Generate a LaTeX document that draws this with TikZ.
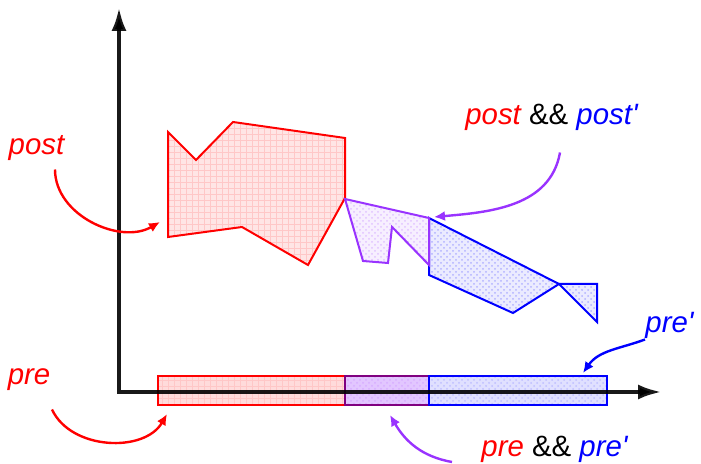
\documentclass[tikz,border=0pt]{standalone}
\usepackage{fontspec}
\setmainfont{Liberation Sans}
\usetikzlibrary{arrows.meta,patterns}
\definecolor{violetline}{RGB}{153,51,255}
\definecolor{barpurple}{RGB}{128,0,128}

\begin{document}
\begin{tikzpicture}[x=0.5pt, y=0.5pt,
    axis/.style={line width=2.2pt, line join=miter, draw opacity=0.9, {Latex[length=12pt, width=7.5pt]}-{Latex[length=12pt, width=7.5pt]}},
    region/.style={draw=#1, line width=1pt, preaction={fill=#1!8}, pattern=crosshatch dots, pattern color=#1!30},
    redregion/.style={draw=red, line width=1pt, preaction={fill=red!10}, pattern=grid, pattern color=red!22},
    bar/.style={draw=#1, line width=1pt},
    conn/.style={line width=1.2pt, -{Latex[length=5.5pt, width=5pt]}},
    lbl/.style={font=\fontsize{14.7}{17}\selectfont\itshape, inner sep=0pt, anchor=base}
]
    \useasboundingbox (0,0) rectangle (701,464);

    % Pre intervals on the axis
    \filldraw[bar=red, preaction={fill=red!14}, pattern=grid, pattern color=red!22] (158,59) rectangle (345,88);
    \filldraw[bar=barpurple, preaction={fill=violetline!28}, pattern=crosshatch dots, pattern color=violetline!40] (345,59) rectangle (429,88);
    \filldraw[bar=blue, preaction={fill=blue!12}, pattern=crosshatch dots, pattern color=blue!25] (429,59) rectangle (607,88);

    % Axes
    \coordinate (origin) at (119,72);
    \coordinate (ytop) at (119,457);
    \coordinate (xend) at (662,72);
    \draw[axis] (ytop) -- (origin) -- (xend);

    % Post regions
    \filldraw[redregion] (168,332) -- (196,304) -- (233,342) -- (345,326) -- (345,266) -- (308,199) -- (242,237) -- (168,227) -- cycle;
    \filldraw[region=blue] (429,246) -- (559,180) -- (597,180) -- (597,142) -- (559,180) -- (513,151) -- (429,189) -- cycle;
    \filldraw[region=violetline] (345,265) -- (429,246) -- (429,199) -- (392,237) -- (388,201) -- (363,203) -- cycle;

    % Arrow ends
    \coordinate (posttip) at (160,242);
    \coordinate (pretip) at (167,50);
    \coordinate (bothposttip) at (434,247);
    \coordinate (primetip) at (583,91);
    \coordinate (bothpretip) at (390,49);

    % Labels
    \node[lbl, text=red] (post) at (36.5,309) {post};
    \node[lbl, text=red] (pre) at (29,79) {pre};
    \node[lbl] (postboth) at (551.5,339) {\textcolor{red}{post} \upshape\&\& \itshape\textcolor{blue}{post\textquotesingle}};
    \node[lbl, text=blue] (preprime) at (669.5,131) {pre\textquotesingle};
    \node[lbl] (preboth) at (554.5,7) {\textcolor{red}{pre} \upshape\&\& \itshape\textcolor{blue}{pre\textquotesingle}};

    % Curved arrows
    \draw[conn, red] ([xshift=9.25pt, yshift=-4pt]post.south) to[out=-90, in=210] (posttip);
    \draw[conn, red] ([xshift=11.5pt, yshift=-9pt]pre.south) to[out=-65, in=240] (pretip);
    \draw[conn, violetline] ([xshift=4.25pt, yshift=-10.5pt]postboth.south) to[out=-100, in=5] (bothposttip);
    \draw[conn, blue] (preprime.south west) to[out=200, in=55] (primetip);
    \draw[conn, violetline] ([xshift=-14.5pt, yshift=-2.5pt]preboth.base west) to[out=170, in=-60] (bothpretip);
\end{tikzpicture}
\end{document}
